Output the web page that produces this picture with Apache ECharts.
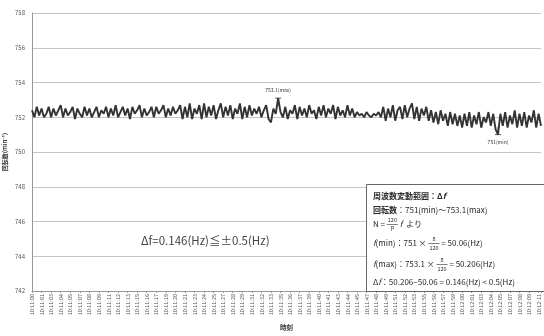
<!DOCTYPE html>
<html>
<head>
<meta charset="utf-8">
<script src="https://cdn.jsdelivr.net/npm/echarts@6/dist/echarts.min.js"></script>
<style>
  html, body { margin: 0; padding: 0; background: #fff; }
  #chart { width: 544px; height: 336px; }
</style>
</head>
<body>
<div id="chart"></div>
<script>
// Rotation speed samples (min^-1), one every 1/3 s from 10:11:00
const rpm = [
  // 0-27
  752.4, 752.0, 752.6, 752.1, 752.5, 752.0, 752.2, 752.6, 752.0, 752.5,
  752.1, 752.4, 752.7, 752.0, 752.5, 752.1, 752.3, 752.6, 751.9, 752.5,
  752.2, 752.0, 752.6, 752.1, 752.5, 752.0, 752.3, 752.6,
  // 28-61
  752.0, 752.4, 752.2, 752.6, 752.0, 752.5, 752.1, 752.7, 752.0, 752.3,
  752.6, 752.1, 752.5, 751.9, 752.6, 752.2, 752.4, 752.7, 752.0, 752.5,
  752.1, 752.3, 752.6, 752.0, 752.6, 752.2, 752.4, 752.7, 752.0, 752.5,
  752.1, 752.6, 752.2, 752.4,
  // 62-104
  752.7, 751.9, 752.6, 752.0, 752.8, 751.9, 752.5, 752.2, 752.7, 751.9,
  752.8, 752.0, 752.6, 752.1, 752.7, 751.9, 752.4, 752.8, 752.0, 752.6,
  752.1, 752.7, 751.9, 752.5, 752.2, 752.8, 751.9, 752.6, 752.0, 752.7,
  752.1, 752.5, 752.2, 752.6, 752.0, 752.4, 752.7, 751.9, 751.7, 752.5,
  752.2, 753.1, 752.3,
  // 105-137
  752.0, 752.6, 751.9, 752.4, 752.2, 752.7, 751.9, 752.6, 752.1, 752.5,
  752.0, 752.7, 752.2, 752.4, 751.9, 752.6, 752.1, 752.7, 752.0, 752.5,
  752.2, 752.7, 751.9, 752.6, 752.1, 752.4, 752.0, 752.7, 752.1, 752.5,
  752.0, 752.3, 752.1,
  // 138-146
  752.2, 752.0, 752.3, 752.1, 752.0, 752.2, 752.1, 752.3, 752.0,
  // 147-166
  752.6, 751.8, 752.5, 752.0, 752.7, 751.8, 752.4, 752.6, 751.9, 752.7,
  752.0, 752.5, 752.8, 751.9, 752.6, 751.8, 752.5, 752.1, 752.6, 751.8,
  // 167-179
  752.4, 751.7, 752.3, 751.6, 752.4, 751.8, 752.2, 751.5, 752.3, 751.6,
  752.2, 751.5, 752.1,
  // 180-213
  751.4, 752.2, 751.5, 752.3, 751.4, 752.1, 751.6, 752.3, 751.4, 752.0,
  751.7, 752.3, 751.5, 752.2, 751.3, 751.0, 752.2, 751.5, 752.3, 751.4,
  752.1, 751.6, 752.4, 751.4, 752.2, 751.5, 752.3, 751.4, 752.1, 751.7,
  752.4, 751.4, 752.2, 751.5
];

// Time labels, one every 4 samples
const tickLabels = [
  '10:11:00', '10:11:01', '10:11:03', '10:11:04', '10:11:05', '10:11:07',
  '10:11:08', '10:11:09', '10:11:11', '10:11:12', '10:11:13', '10:11:15',
  '10:11:16', '10:11:17', '10:11:19', '10:11:20', '10:11:21', '10:11:23',
  '10:11:24', '10:11:25', '10:11:27', '10:11:28', '10:11:29', '10:11:31',
  '10:11:32', '10:11:33', '10:11:35', '10:11:36', '10:11:37', '10:11:39',
  '10:11:40', '10:11:41', '10:11:43', '10:11:44', '10:11:45', '10:11:47',
  '10:11:48', '10:11:49', '10:11:51', '10:11:52', '10:11:53', '10:11:55',
  '10:11:56', '10:11:57', '10:11:59', '10:12:00', '10:12:01', '10:12:03',
  '10:12:04', '10:12:05', '10:12:07', '10:12:08', '10:12:09', '10:12:11'
];
const labelStep = 4;

// Extremes marked on the trace
const maxIndex = rpm.indexOf(Math.max(...rpm));
const minIndex = rpm.indexOf(Math.min(...rpm));

const FONT = '"Noto Sans CJK JP", "Noto Sans", sans-serif';
const chart = echarts.init(document.getElementById('chart'), null, { renderer: 'canvas' });

// Text width helper for laying out the formula box
const mctx = document.createElement('canvas').getContext('2d');
function textWidth(text, size, weight, style) {
  mctx.font = `${style || 'normal'} ${weight || 'normal'} ${size}px ${FONT}`;
  return mctx.measureText(text).width;
}

// Formula box contents
const BOX = { x: 366, y: 184, w: 190, h: 107 };
const BODY = 8, SMALL = 5.5, INK = '#2a2a2a';
const rows = [
  { y: 196, parts: [{ t: '周波数変動範囲：Δ', b: true }, { t: 'f', b: true, i: true }] },
  { y: 210, parts: [{ t: '回転数', b: true }, { t: '：751(min)～753.1(max)' }] },
  { y: 224, parts: [{ t: 'N = ' }, { frac: ['120', 'P'] }, { t: ' f', i: true }, { t: '  より' }] },
  { y: 243, parts: [{ t: 'f', i: true }, { t: '(min)：751 × ' }, { frac: ['8', '120'] }, { t: ' = 50.06(Hz)' }] },
  { y: 264, parts: [{ t: 'f', i: true }, { t: '(max)：753.1 × ' }, { frac: ['8', '120'] }, { t: ' = 50.206(Hz)' }] },
  { y: 282, parts: [{ t: 'Δ' }, { t: 'f', i: true }, { t: '：50.206−50.06 = 0.146(Hz) < 0.5(Hz)' }] }
];

function buildBox() {
  const els = [{
    type: 'rect', z: 10,
    shape: { x: BOX.x + 0.5, y: BOX.y + 0.5, width: BOX.w, height: BOX.h },
    style: { fill: '#fff', stroke: '#666', lineWidth: 1 }
  }];
  rows.forEach(row => {
    let x = BOX.x + 7;
    row.parts.forEach(p => {
      if (p.frac) {
        const w = Math.max(textWidth(p.frac[0], SMALL), textWidth(p.frac[1], SMALL)) + 2;
        const cx = x + w / 2;
        els.push({ type: 'text', z: 11, style: { text: p.frac[0], x: cx, y: row.y - 4, fontSize: SMALL, fontFamily: FONT, fill: INK, align: 'center', verticalAlign: 'middle' } });
        els.push({ type: 'line', z: 11, shape: { x1: x, y1: row.y + 0.5, x2: x + w, y2: row.y + 0.5 }, style: { stroke: INK, lineWidth: 0.6 } });
        els.push({ type: 'text', z: 11, style: { text: p.frac[1], x: cx, y: row.y + 5, fontSize: SMALL, fontFamily: FONT, fill: INK, align: 'center', verticalAlign: 'middle' } });
        x += w;
      } else {
        const weight = p.b ? 'bold' : 'normal';
        const fstyle = p.i ? 'italic' : 'normal';
        els.push({ type: 'text', z: 11, style: { text: p.t, x: x, y: row.y, fontSize: BODY, fontFamily: FONT, fontWeight: weight, fontStyle: fstyle, fill: INK, align: 'left', verticalAlign: 'middle' } });
        x += textWidth(p.t, BODY, weight, fstyle);
      }
    });
  });
  return els;
}

const option = {
  animation: false,
  grid: { left: 32, right: 3, top: 13, bottom: 45, containLabel: false, outerBoundsMode: 'none' },
  xAxis: {
    type: 'value',
    min: 0,
    max: rpm.length - 1,
    interval: labelStep,
    axisLine: { lineStyle: { color: '#999' } },
    axisTick: { show: true, length: 2, lineStyle: { color: '#999' } },
    splitLine: { show: false },
    axisLabel: {
      rotate: 90, fontSize: 5.5, color: '#555', margin: 3, fontFamily: FONT,
      formatter: v => (v % labelStep === 0 && tickLabels[v / labelStep]) || ''
    },
    name: '時刻',
    nameLocation: 'middle',
    nameGap: 33,
    nameMoveOverlap: false,
    nameTextStyle: { fontSize: 6.5, fontWeight: 'bold', color: '#333', fontFamily: FONT }
  },
  yAxis: {
    type: 'value',
    min: 742,
    max: 758,
    interval: 2,
    axisLine: { show: true, lineStyle: { color: '#999' } },
    axisTick: { show: false },
    splitLine: { lineStyle: { color: '#c4c4c4', width: 1 } },
    axisLabel: { fontSize: 6, color: '#555', margin: 7, fontFamily: FONT },
    name: '回転数(min⁻¹)',
    nameLocation: 'middle',
    nameRotate: 90,
    nameGap: 24,
    nameMoveOverlap: false,
    nameTextStyle: { fontSize: 6, fontWeight: 'bold', color: '#333', fontFamily: FONT }
  },
  series: [{
    type: 'line',
    data: rpm.map((v, i) => [i, v]),
    showSymbol: false,
    lineStyle: { color: '#333', width: 1.9 },
    markPoint: {
      itemStyle: { color: 'none', borderColor: '#333', borderWidth: 0.8 },
      data: [
        {
          coord: [maxIndex, rpm[maxIndex]],
          symbol: 'path://M0,0L10,0M5,0L5,12',
          symbolSize: [6, 8],
          symbolOffset: [0, '50%'],
          label: { show: true, position: 'top', distance: 0, offset: [0, -3], formatter: rpm[maxIndex] + '(max)', fontSize: 5, color: '#333', fontFamily: FONT }
        },
        {
          coord: [minIndex, rpm[minIndex]],
          symbol: 'path://M5,0L5,12M0,12L10,12',
          symbolSize: [6, 8],
          symbolOffset: [0, '-50%'],
          label: { show: true, position: 'bottom', distance: 2, formatter: rpm[minIndex] + '(min)', fontSize: 5, color: '#333', fontFamily: FONT }
        }
      ]
    }
  }],
  graphic: [
    {
      type: 'text', z: 10,
      style: { text: 'Δf=0.146(Hz)≦±0.5(Hz)', x: 141, y: 241, fontSize: 11.5, fontFamily: FONT, fill: '#444', align: 'left', verticalAlign: 'middle' }
    }
  ].concat(buildBox())
};

chart.setOption(option);
</script>
</body>
</html>
